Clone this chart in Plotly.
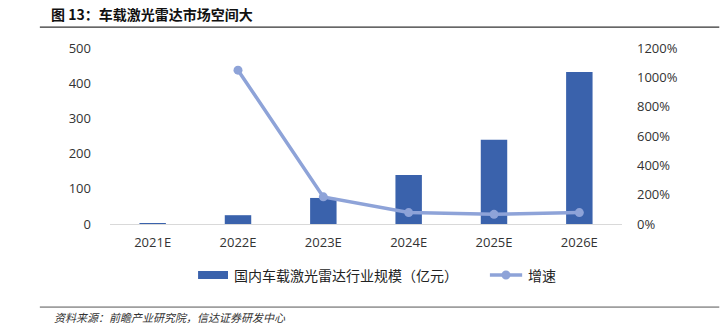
import plotly.graph_objects as go

# 国内车载激光雷达市场规模（亿元）与增速
years = ["2021E", "2022E", "2023E", "2024E", "2025E", "2026E"]
market_size = [2.2, 25, 74, 139, 239, 432]
growth_pct = [None, 1049, 185, 78, 66, 78]

left_ticks = [0, 100, 200, 300, 400, 500]
right_ticks = [0, 200, 400, 600, 800, 1000, 1200]

bar_name = "国内车载激光雷达行业规模（亿元）"
line_name = "增速"

bar_color = "#3A62AC"
line_color = "#8EA3D8"
cjk = "Noto Sans CJK SC"
num_font = "Open Sans, " + cjk

fig = go.Figure()
fig.add_trace(go.Bar(
    x=years, y=market_size, name=bar_name, showlegend=False,
    marker=dict(color=bar_color, line=dict(width=0)), width=0.31,
))
fig.add_trace(go.Scatter(
    x=years, y=growth_pct, name=line_name, yaxis="y2", mode="lines+markers",
    showlegend=False,
    line=dict(color=line_color, width=3.5),
    marker=dict(color=line_color, size=9),
))

fig.update_layout(
    width=725, height=330,
    margin=dict(l=110, r=103, t=48, b=106),
    paper_bgcolor="white", plot_bgcolor="white",
    font=dict(family=num_font, size=13, color="#333333"),
    xaxis=dict(showgrid=False, showline=True, linecolor="#D9D9D9", linewidth=1,
               ticks="", tickfont=dict(size=13), ticklabelstandoff=6),
    yaxis=dict(range=[0, 500], tickvals=left_ticks, showgrid=False, zeroline=False,
               showline=False, ticks="", ticklabelstandoff=18,
               tickfont=dict(size=13)),
    yaxis2=dict(range=[0, 1200], tickvals=right_ticks,
                ticktext=[f"{v}%" for v in right_ticks], overlaying="y", side="right",
                showgrid=False, zeroline=False, showline=False, ticks="",
                ticklabelstandoff=14, tickfont=dict(size=13)),
    bargap=0.69,
)

# 图例（宽色块 + 带圆点的线段）
legend_y = -0.29
fig.add_shape(type="rect", xref="paper", yref="paper", x0=0.172, x1=0.2305,
              y0=-0.3125, y1=-0.267, fillcolor=bar_color, line=dict(width=0))
fig.add_annotation(text=bar_name, xref="paper", yref="paper", x=0.239, y=legend_y,
                   xanchor="left", yanchor="middle", showarrow=False,
                   font=dict(family=cjk, size=14, color="#222222"))
fig.add_shape(type="line", xref="paper", yref="paper", x0=0.742, x1=0.805,
              y0=legend_y, y1=legend_y, line=dict(color=line_color, width=3.5))
fig.add_shape(type="circle", xref="paper", yref="paper", x0=0.7734 - 0.0088,
              x1=0.7734 + 0.0088, y0=legend_y - 0.0256, y1=legend_y + 0.0256,
              fillcolor=line_color, line=dict(width=0))
fig.add_annotation(text=line_name, xref="paper", yref="paper", x=0.813, y=legend_y,
                   xanchor="left", yanchor="middle", showarrow=False,
                   font=dict(family=cjk, size=14, color="#222222"))

# 标题与资料来源
fig.add_annotation(text="<b>图 13：车载激光雷达市场空间大</b>", xref="paper", yref="paper",
                   x=-0.12, y=1.193, xanchor="left", yanchor="middle", showarrow=False,
                   font=dict(family=cjk, size=14, color="#111111"))
fig.add_shape(type="line", xref="paper", yref="paper", x0=-0.137, x1=1.19,
              y0=1.119, y1=1.119, line=dict(color="#333333", width=1.2))
fig.add_shape(type="line", xref="paper", yref="paper", x0=-0.137, x1=1.19,
              y0=-0.472, y1=-0.472, line=dict(color="#555555", width=1))
fig.add_annotation(text="资料来源：前瞻产业研究院，信达证券研发中心", xref="paper", yref="paper",
                   x=-0.113, y=-0.53, xanchor="left", yanchor="middle", showarrow=False,
                   font=dict(family=cjk, size=11, color="#333333", style="italic"))

fig.write_html("out.html")
